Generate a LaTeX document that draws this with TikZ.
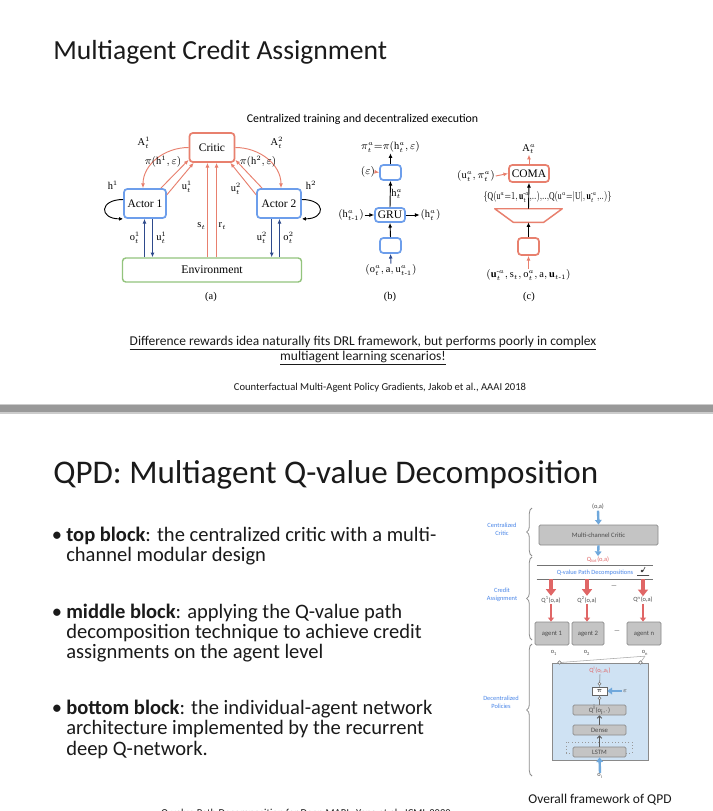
\documentclass[tikz,border=0pt]{standalone}
\usepackage{amsmath}
\usepackage{fontspec}
\usepackage{graphicx}
\setmainfont{Carlito}
\setmathrm{Liberation Serif}
\newfontfamily\diagserif{Liberation Serif}
\usetikzlibrary{arrows.meta,positioning,calc,decorations.pathreplacing}

\definecolor{critRed}{HTML}{E8806E}
\definecolor{actBlue}{HTML}{6D9EEB}
\definecolor{envGreen}{HTML}{93C47D}
\definecolor{obsNavy}{HTML}{2E4A8C}
\definecolor{qpdGrey}{HTML}{C4C4C4}
\definecolor{qpdEdge}{HTML}{8A8A8A}
\definecolor{qpdBlue}{HTML}{4A86E8}
\definecolor{qpdArrow}{HTML}{6FA8DC}
\definecolor{qpdRed}{HTML}{E06666}
\definecolor{polFill}{HTML}{CFE2F3}
\definecolor{barGrey}{HTML}{999999}
\definecolor{inkBlack}{HTML}{1A1A1A}

\tikzset{
  sz/.style 2 args={minimum width=#1*0.75pt, minimum height=#2*0.75pt, inner sep=0pt},
  titletext/.style={anchor=base west, inner sep=0pt, text=inkBlack, font=\fontsize{20.7pt}{24pt}\selectfont},
  bullettext/.style={anchor=base west, inner sep=0pt, text=inkBlack, font=\fontsize{15.4pt}{15pt}\selectfont},
  diag/.style={inner sep=0.5pt, font=\diagserif\fontsize{7.8pt}{9pt}\selectfont},
  critbox/.style={draw=critRed, line width=1.3pt, rounded corners=2.5pt, fill=white, font=\diagserif\fontsize{8.6pt}{10pt}\selectfont},
  actbox/.style={draw=actBlue, line width=1.3pt, rounded corners=2.5pt, fill=white, font=\diagserif\fontsize{8.6pt}{10pt}\selectfont},
  envbox/.style={draw=envGreen, line width=1.1pt, rounded corners=2.5pt, font=\diagserif\fontsize{8.8pt}{10pt}\selectfont},
  critarrow/.style={critRed, line width=0.7pt, -{Latex[length=3.5pt,width=3pt]}},
  navyarrow/.style={obsNavy, line width=0.7pt, -{Latex[length=3.5pt,width=3pt]}},
  blkarrow/.style={black, line width=0.7pt, -{Latex[length=3.5pt,width=3pt]}},
  looparrow/.style={black, line width=0.7pt, -{Latex[length=3pt,width=2.8pt]}},
  tinytext/.style={inner sep=0.5pt, font=\fontsize{4.8pt}{5.4pt}\selectfont, text=black!70},
  qpdbox/.style={draw=qpdEdge, fill=qpdGrey, line width=0.6pt, rounded corners=1pt, font=\fontsize{5pt}{5.6pt}\selectfont, text=black!70},
  bluefat/.style={draw=qpdArrow, line width=1.8pt, -{Triangle[length=3.5pt,width=5pt]}},
  redfat/.style={draw=qpdRed, line width=3pt, -{Triangle[length=5pt,width=7.5pt]}},
  redthin/.style={draw=qpdRed, line width=1.5pt, -{Triangle[length=3pt,width=4.5pt]}},
  barbarrow/.style={draw=black!65, line width=0.6pt, -{Straight Barb[length=1.8pt,width=3.5pt]}},
  bracegrey/.style={draw=black!45, line width=0.6pt, decorate, decoration={brace, amplitude=4pt}},
  bluelabel/.style={align=center, inner sep=0pt, text=qpdBlue, font=\fontsize{4.8pt}{6pt}\selectfont},
}

\begin{document}
\begin{tikzpicture}[x=0.75pt, y=-0.75pt]
% page
\useasboundingbox (0,0) rectangle (713,811);
\fill[white] (0,0) rectangle (713,811);

% ---------- slide 1 ----------
\node[titletext] (title1) at (53,59.5) {Multiagent Credit Assignment};
\node[inner sep=0pt, anchor=base, font=\fontsize{8.9pt}{10pt}\selectfont] (ctde) at (362.5,122) {Centralized training and decentralized execution};

% (a) actor-critic loop
\node[critbox, sz={45}{29}] (critic) at (212,147.5) {Critic};
\node[actbox, sz={42}{29}] (actor1) at (145,203.5) {Actor 1};
\node[actbox, sz={44}{29}] (actor2) at (279,203.5) {Actor 2};
\node[envbox, sz={179}{24}] (env) at (212,270) {Environment};

\draw[critarrow] (critic.west) to[out=180,in=90] ([xshift=-1.5pt]actor1.north);
\draw[critarrow] (critic.east) to[out=0,in=90] ([xshift=1.5pt]actor2.north);
\draw[critarrow] ([xshift=-4.5pt]actor1.north east) -- ([yshift=2.25pt]critic.south west);
\draw[critarrow] ([yshift=-5pt]actor1.north east) -- ([xshift=3.75pt]critic.south west);
\draw[critarrow] ([xshift=4.5pt]actor2.north west) -- ([yshift=2.25pt]critic.south east);
\draw[critarrow] ([yshift=-5pt]actor2.north west) -- ([xshift=-3.75pt]critic.south east);
\draw[critarrow] ([xshift=-3.4pt]env.north) -- ([xshift=-3.4pt]critic.south);
\draw[critarrow] ([xshift=3.4pt]env.north) -- ([xshift=3.4pt]critic.south);

\draw[navyarrow] ($(actor1.south |- env.north)+(-0.5,0)$) -- ($(actor1.south)+(-0.5,0)$);
\draw[navyarrow] ($(actor1.south)+(7.5,0)$) -- ($(actor1.south |- env.north)+(7.5,0)$);
\draw[navyarrow] ($(actor2.south)+(-7.3,0)$) -- ($(actor2.south |- env.north)+(-7.3,0)$);
\draw[navyarrow] ($(actor2.south |- env.north)+(0.5,0)$) -- ($(actor2.south)+(0.5,0)$);

\draw[looparrow] ([yshift=3pt]actor1.west) to[out=180,in=180,looseness=3.2] (actor1.south west);
\draw[looparrow] ([yshift=3pt]actor2.east) to[out=0,in=0,looseness=3.2] (actor2.south east);

\node[diag] (a1lbl) at (144,143) {$\mathrm{A}^{1}_{t}$};
\node[diag] (a2lbl) at (277,143) {$\mathrm{A}^{2}_{t}$};
\node[diag] (pi1lbl) at (163,162) {$\pi(\mathrm{h}^{1}{,}\,\varepsilon)$};
\node[diag] (pi2lbl) at (258,162) {$\pi(\mathrm{h}^{2}{,}\,\varepsilon)$};
\node[diag] (u1up) at (187,187) {$\mathrm{u}^{1}_{t}$};
\node[diag] (u2up) at (236,189) {$\mathrm{u}^{2}_{t}$};
\node[diag] (h1lbl) at (113,185) {$\mathrm{h}^{1}$};
\node[diag] (h2lbl) at (311,185) {$\mathrm{h}^{2}$};
\node[diag] (stlbl) at (201.5,226) {$\mathrm{s}_{t}$};
\node[diag] (rtlbl) at (222.5,226) {$\mathrm{r}_{t}$};
\node[diag] (o1lbl) at (135,238) {$\mathrm{o}^{1}_{t}$};
\node[diag] (u1lbl) at (161.5,238) {$\mathrm{u}^{1}_{t}$};
\node[diag] (u2lbl) at (262,238) {$\mathrm{u}^{2}_{t}$};
\node[diag] (o2lbl) at (288.5,238) {$\mathrm{o}^{2}_{t}$};
\node[diag] (capa) at (211,296.5) {(a)};

% (b) actor network
\node[diag] (pib) at (390.5,147) {$\pi^{a}_{t}{=}\pi(\mathrm{h}^{a}_{t}{,}\,\varepsilon)$};
\node[actbox, sz={21}{15}] (topb) at (390.5,172.5) {};
\node[actbox, sz={30}{14}] (gru) at (390,215) {GRU};
\node[actbox, sz={21}{15}] (botb) at (390.5,245.5) {};
\node[diag] (obsb) at (391,270) {$(\mathrm{o}^{a}_{t}{,}\,\mathrm{a}{,}\,\mathrm{u}^{a}_{t\text{-}1})$};
\node[diag] (epsb) at (368,172) {$(\varepsilon)$};
\node[diag] (hprev) at (351,215) {$(\mathrm{h}^{a}_{t\text{-}1})$};
\node[diag] (hnext) at (430.5,215) {$(\mathrm{h}^{a}_{t})$};
\draw[blkarrow] (topb.north) -- (pib.south);
\draw[blkarrow] (gru.north) -- node[diag, right] (hlbl) {$\mathrm{h}^{a}_{t}$} (topb.south);
\draw[blkarrow] (botb.north) -- (gru.south);
\draw[blkarrow] (hprev.east) -- (gru.west);
\draw[blkarrow] (gru.east) -- (hnext.west);
\draw[navyarrow] (obsb.north) -- (botb.south);
\draw[critarrow] (epsb.east) -- (topb.west);
\node[diag] (capb) at (390,296.5) {(b)};

% (c) COMA critic
\node[diag] (Aa) at (529,149) {$\mathrm{A}^{a}_{t}$};
\node[critbox, sz={40}{17}] (coma) at (529,173.5) {COMA};
\node[diag] (uapi) at (476,176) {$(\mathrm{u}^{a}_{t}{,}\,\pi^{a}_{t})$};
\node[sz={67}{13}] (trap) at (528.5,215.5) {};
\node[critbox, sz={21}{17}] (botc) at (528.5,246.5) {};
\node[diag] (inc) at (528.5,275) {$(\mathbf{u}^{\text{-}a}_{t}{,}\,\mathrm{s}_{t}{,}\,\mathrm{o}^{a}_{t}{,}\,\mathrm{a}{,}\,\mathbf{u}_{t\text{-}1})$};
\draw[critRed, line width=1.1pt, line join=round] (trap.north west) -- (trap.north east) -- ([xshift=-13.9pt]trap.south east) -- ([xshift=13.9pt]trap.south west) -- cycle;
\draw[critarrow] (coma.north) -- (Aa.south);
\draw[critarrow] (uapi.east) -- (coma.west);
\draw[blkarrow] (trap.north) -- (coma.south);
\draw[blkarrow] (botc.north) -- (trap.south);
\draw[critarrow] (inc.north) -- (botc.south);
\node[diag, inner sep=0pt] (qset) at (547.5,197) {\resizebox{96pt}{\height}{$\{\mathrm{Q}(\mathrm{u}^{a}{=}1{,}\,\mathbf{u}^{\text{-}a}_{t}{,}..){,}..{,}\mathrm{Q}(\mathrm{u}^{a}{=}|\mathrm{U}|{,}\,\mathbf{u}^{\text{-}a}_{t}{,}..)\}$}};
\node[diag] (capc) at (529,296.5) {(c)};

% remarks
\node[anchor=base, inner sep=0pt, text=inkBlack, font=\fontsize{10.1pt}{11pt}\selectfont] (diff1) at (363,345.5) {\underline{Difference rewards idea naturally fits DRL framework, but performs poorly in complex}};
\node[anchor=base, inner sep=0pt, text=inkBlack, font=\fontsize{10.1pt}{11pt}\selectfont] (diff2) at (363,360.5) {\underline{multiagent learning scenarios!}};
\node[anchor=base, inner sep=0pt, text=inkBlack, font=\fontsize{7.95pt}{9pt}\selectfont] (ref1) at (380,390) {Counterfactual Multi-Agent Policy Gradients, Jakob et al., AAAI 2018};

% ---------- separator ----------
\fill[black!20] (0,404) rectangle (713,413.5);
\fill[barGrey] (0,405.2) rectangle (713,412.3);

% ---------- slide 2 ----------
\node[titletext, font=\fontsize{24.8pt}{28pt}\selectfont] (title2) at (53,483.5) {QPD: Multiagent Q-value Decomposition};

\node[bullettext] (b1) at (51.5,541.7) {\textbullet};
\node[bullettext] (b1l1) at (66,541.7) {\textbf{top block}: the centralized critic with a multi-};
\node[bullettext] (b1l2) at (66,561.7) {channel modular design};
\node[bullettext] (b2) at (51.5,618.3) {\textbullet};
\node[bullettext] (b2l1) at (66,618.3) {\textbf{middle block}: applying the Q-value path};
\node[bullettext] (b2l2) at (66,638.3) {decomposition technique to achieve credit};
\node[bullettext] (b2l3) at (66,658.3) {assignments on the agent level};
\node[bullettext] (b3) at (51.5,714.3) {\textbullet};
\node[bullettext] (b3l1) at (66,714.3) {\textbf{bottom block}: the individual-agent network};
\node[bullettext] (b3l2) at (66,734.3) {architecture implemented by the recurrent};
\node[bullettext] (b3l3) at (66,755) {deep Q-network.};

% QPD framework
\node[tinytext] (oa) at (598,507) {(o,a)};
\node[qpdbox, sz={119}{20}] (mcc) at (598.5,535) {Multi-channel Critic};
\node[tinytext, text=qpdRed] (qtot) at (598,560) {Q\textsubscript{tot}(o,a)};
\node[sz={116}{13}, font=\fontsize{4.8pt}{5.4pt}\selectfont, text=qpdBlue] (decomp) at (595,572.5) {Q-value Path Decompositions};
\draw[black!55, line width=0.5pt] (decomp.north west) -- (decomp.north east);
\draw[black!55, line width=0.5pt] (decomp.south west) -- (decomp.south east);
\fill[black!80] (642,571) circle[radius=1.1pt];
\draw[black!70, line width=0.5pt] (637,575.5) -- (649,575.5) (643,571) -- (645,567);
\draw[bluefat] (oa.south) -- (mcc.north);
\draw[bluefat] (mcc.south) -- (qtot.north);

\node[tinytext] (q1) at (551,600) {Q\textsuperscript{1}(o,a)};
\node[tinytext] (q2) at (587,600) {Q\textsuperscript{2}(o,a)};
\node[tinytext] (qn) at (643,600) {Q\textsuperscript{n}(o,a)};
\node[tinytext] (qdots) at (614,587) {---};
\draw[redfat] (decomp.south -| q1.north) -- (q1.north);
\draw[redfat] (decomp.south -| q2.north) -- (q2.north);
\draw[redfat] (decomp.south -| qn.north) -- (qn.north);

\node[qpdbox, sz={34}{23}] (ag1) at (552,633.5) {agent 1};
\node[qpdbox, sz={32}{23}] (ag2) at (588,633.5) {agent 2};
\node[qpdbox, sz={34}{23}] (agn) at (644,633.5) {agent n};
\node[tinytext] (agdots) at (617,632) {---};
\draw[redthin] (q1.south) -- (q1.south |- ag1.north);
\draw[redthin] (q2.south) -- (q2.south |- ag2.north);
\draw[redthin] (qn.south) -- (qn.south |- agn.north);

\node[tinytext] (o1) at (554,653) {o\textsubscript{1}};
\node[tinytext] (o2) at (587,653) {o\textsubscript{2}};
\node[tinytext] (on) at (645,653) {o\textsubscript{n}};

% one agent, zoomed in
\node[draw=qpdEdge, fill=polFill, line width=0.7pt, sz={96}{97}] (pol) at (600,711.5) {};
\draw[black!35, line width=0.4pt] (on.south) -- ([xshift=6pt]pol.north west);
\draw[black!35, line width=0.4pt] (on.south) -- ([xshift=-6pt]pol.north east);
\draw[black!55, fill=white, line width=0.4pt] ([xshift=6pt]pol.north west) circle[radius=1.3pt];
\draw[black!55, fill=white, line width=0.4pt] ([xshift=-6pt]pol.north east) circle[radius=1.3pt];
\node[tinytext, text=qpdRed] (qi) at (600,670) {Q\textsuperscript{i}(o\textsubscript{i},a\textsubscript{i})};
\node[draw=black!60, fill=white, line width=0.5pt, sz={15}{8}, font=\fontsize{4.8pt}{5.4pt}\selectfont] (pinode) at (599.5,691) {$\pi$};
\node[qpdbox, sz={53}{10}] (qio) at (599.5,710) {Q\textsuperscript{i}(o\textsubscript{i},$\cdot$)};
\node[qpdbox, sz={53}{10}] (dense) at (599.5,730) {Dense};
\node[draw=black!40, dotted, line width=0.5pt, sz={66}{11}] (lstmloop) at (599,747.5) {};
\node[qpdbox, sz={53}{10}] (lstm) at (599.5,752) {LSTM};
\node[tinytext] (epsq) at (625,691) {$\varepsilon$};
\node[tinytext] (oi) at (600,776) {o\textsubscript{i}};
\draw[black!55, line width=0.4pt] (pinode.north) -- (qi.south);
\draw[black!55, line width=0.4pt] (qio.north) -- (pinode.south);
\draw[black!55, fill=white, line width=0.4pt] (pinode.north) ++(0,-3) circle[radius=1.1pt];
\draw[black!55, fill=white, line width=0.4pt] (pinode.south) ++(0,3) circle[radius=1.1pt];
\draw[barbarrow] (dense.north) -- (qio.south);
\draw[barbarrow] (lstm.north) -- (dense.south);
\draw[bluefat] (epsq.west) -- (pinode.east);
\draw[bluefat] (oi.north) -- (lstm.south);

% braces and block names
\draw[bracegrey] (532,556) -- (532,508);
\draw[bracegrey] (532,640) -- (532,557);
\draw[bracegrey] (532,776) -- (532,644);
\node[bluelabel] (lblcc) at (502,529) {Centralized\\Critic};
\node[bluelabel] (lblca) at (502,595) {Credit\\Assignment};
\node[bluelabel] (lbldp) at (501,702) {Decentralized\\Policies};

\node[anchor=base, inner sep=0pt, text=inkBlack, font=\fontsize{10.1pt}{12pt}\selectfont] (qpdcap) at (600,803) {Overall framework of QPD};

% reference line, cut by the page edge
\node[anchor=base, inner sep=0pt, text=inkBlack, font=\fontsize{7.95pt}{9pt}\selectfont] (ref2) at (306,816) {Q-value Path Decomposition for Deep MARL, Yang et al., ICML 2020};
\end{tikzpicture}
\end{document}
